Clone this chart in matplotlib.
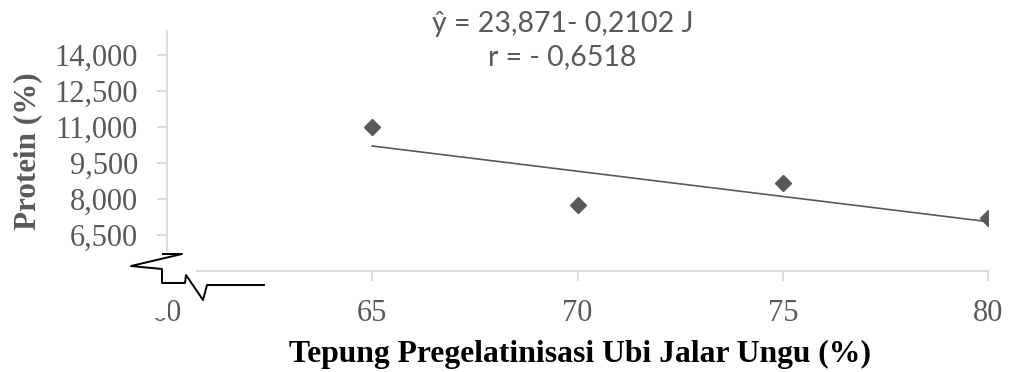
import matplotlib
matplotlib.use("Agg")
import matplotlib.pyplot as plt
from matplotlib.patches import Polygon
from matplotlib.lines import Line2D
from matplotlib.ticker import FuncFormatter

# Protein content vs. share of pregelatinised purple sweet potato flour
flour_pct = [65, 70, 75, 80]
protein = [11.00, 7.75, 8.67, 7.21]

# regression: y = a + b * J
intercept = 23.871
slope = -0.2102
r_value = -0.6518

x_ticks = [60, 65, 70, 75, 80]
y_ticks = [5.0, 6.5, 8.0, 9.5, 11.0, 12.5, 14.0]

GREY = "#595959"
AXIS_GREY = "#d9d9d9"
W, H = 1010, 372

# axis-break decoration, in figure pixels (origin top-left)
BREAK_FILL = [(40, 252), (196, 252), (196, 296), (168, 296), (168, 318),
              (140, 318), (140, 296), (40, 296)]
BREAK_LINE = [(163, 254), (182, 254), (131, 266), (162, 269), (162, 283),
              (185, 283), (186, 275), (203, 300), (207, 285), (264, 285)]


def px(points):
    return [(x / W, 1 - y / H) for x, y in points]


def comma_fmt(v, _pos):
    return f"{v:.3f}".replace(".", ",")


fig = plt.figure(figsize=(W / 100, H / 100), dpi=100)
ax = fig.add_axes([167 / W, 101 / H, 821 / W, 240 / H])

ax.plot(flour_pct, protein, linestyle="none", marker="D", markersize=8.6,
        color=GREY, zorder=3)
fit_x = [flour_pct[0], flour_pct[-1]]
fit_y = [intercept + slope * x for x in fit_x]
ax.plot(fit_x, fit_y, color=GREY, linewidth=1.2, zorder=2)

ax.set_xlim(60, 80)
ax.set_ylim(5, 15)
ax.set_xticks(x_ticks)
ax.set_yticks(y_ticks)
ax.yaxis.set_major_formatter(FuncFormatter(comma_fmt))

for side in ("top", "right"):
    ax.spines[side].set_visible(False)
for side in ("left", "bottom"):
    ax.spines[side].set_color(AXIS_GREY)
    ax.spines[side].set_linewidth(1.3)

ax.tick_params(axis="both", colors=AXIS_GREY, length=7, width=1.3,
               labelcolor=GREY, labelsize=22)
ax.tick_params(axis="y", pad=14)
ax.tick_params(axis="x", pad=13)
for lbl in ax.get_xticklabels() + ax.get_yticklabels():
    lbl.set_fontfamily("Liberation Serif")

ax.set_xlabel("Tepung Pregelatinisasi Ubi Jalar Ungu (%)", fontsize=22.8,
              fontweight="bold", family="Liberation Serif", color="black",
              va="center")
ax.xaxis.set_label_coords((580 - 167) / 821, (271 - 354) / 240)
ax.set_ylabel("Protein (%)", fontsize=22.4, fontweight="bold",
              family="Liberation Serif", color=GREY, va="center")
ax.yaxis.set_label_coords((28 - 167) / 821, (271 - 151) / 240)

eq = f"ŷ = {intercept:.3f}- {abs(slope):.4f} J".replace(".", ",")
rr = f"r = - {abs(r_value):.4f}".replace(".", ",")
fig.text(563 / W, 1 - 24 / H, eq, ha="center", va="center", fontsize=20.5,
         family="Lato", color=GREY)
fig.text(562 / W, 1 - 57 / H, rr, ha="center", va="center", fontsize=20.5,
         family="Lato", color=GREY)

# axis break: white cover plus zigzag outline
fig.patches.append(Polygon(px(BREAK_FILL), closed=True, facecolor="white",
                           edgecolor="none", transform=fig.transFigure,
                           zorder=10))
bx, by = zip(*px(BREAK_LINE))
fig.lines.append(Line2D(bx, by, color="black", linewidth=1.4,
                        transform=fig.transFigure, zorder=11))

fig.savefig("out.png", dpi=100)
